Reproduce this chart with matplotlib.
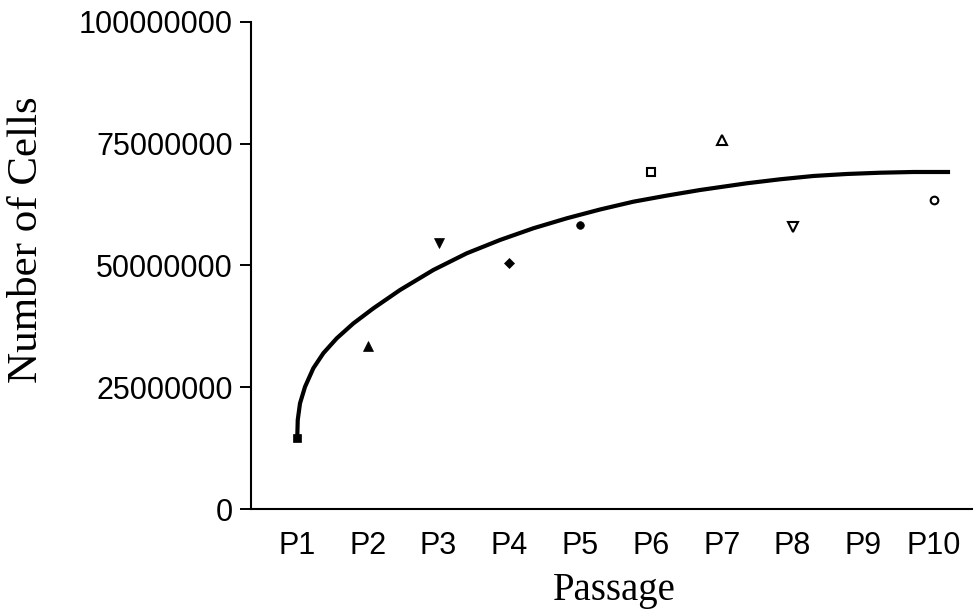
import numpy as np
import matplotlib
matplotlib.use("Agg")
import matplotlib.pyplot as plt

# Cell counts per passage
passages = ["P1", "P2", "P3", "P4", "P5", "P6", "P7", "P8", "P9", "P10"]
cells = [14.6e6, 33.5e6, 54.7e6, 50.6e6, 58.3e6, 69.1e6, 75.8e6, 58.0e6, np.nan, 63.5e6]
markers = ["s", "^", "v", "D", "o", "s", "^", "v", None, "o"]
filled = [True, True, True, True, True, False, False, False, False, False]
msizes = [6, 7.5, 7.5, 5, 5.5, 5.5, 7.5, 7.5, 0, 5.5]

# fitted curve (x in passage units, y in cells)
fit_x = [1.0, 1.004, 1.01, 1.042, 1.113, 1.23, 1.372, 1.561, 1.795, 2.078, 2.455,
         2.926, 3.397, 3.868, 4.338, 4.810, 5.281, 5.751, 6.223, 6.694, 7.354,
         7.824, 8.295, 8.766, 9.237, 9.707, 10.226]
fit_y = [14.6e6, 15.2e6, 18.3e6, 21.7e6, 25.1e6, 28.9e6, 32.0e6, 35.05e6, 38.1e6,
         41.2e6, 44.97e6, 49.08e6, 52.5e6, 55.24e6, 57.64e6, 59.69e6, 61.5e6,
         63.1e6, 64.35e6, 65.5e6, 66.88e6, 67.7e6, 68.38e6, 68.79e6, 69.05e6,
         69.2e6, 69.2e6]

y_ticks = [0, 25000000, 50000000, 75000000, 100000000]


def main():
    fig = plt.figure(figsize=(9.73, 6.16), dpi=100)
    ax = fig.add_axes([0.258, 0.1737, 0.742, 0.7906])

    pos = np.arange(1, len(passages) + 1)

    # --- points, one marker style per passage
    for i, (p, c) in enumerate(zip(pos, cells)):
        if markers[i] is None or np.isnan(c):
            continue
        ax.plot(p, c, marker=markers[i], ms=msizes[i], ls="none",
                mfc="black" if filled[i] else "white", mec="black",
                mew=1.5 if not filled[i] else 0.5, zorder=3)

    # --- fitted curve
    ax.plot(fit_x, fit_y, color="black", lw=3, solid_capstyle="butt",
            solid_joinstyle="round", zorder=2)

    ax.set_xlim(0.35, 10.55)
    ax.set_ylim(0, 100000000)
    ax.set_xticks(pos)
    ax.set_xticklabels(passages, fontfamily="Liberation Sans", fontsize=22)
    ax.set_yticks(y_ticks)
    ax.set_yticklabels([str(v) for v in y_ticks], fontfamily="Liberation Sans", fontsize=22)

    ax.tick_params(axis="x", length=0, pad=16)
    ax.tick_params(axis="y", length=8, width=1.4, pad=5)

    for s in ["top", "right"]:
        ax.spines[s].set_visible(False)
    for s in ["left", "bottom"]:
        ax.spines[s].set_linewidth(1.5)

    ax.set_ylabel("Number of Cells", fontfamily="Liberation Serif", fontsize=31, va="center")
    ax.yaxis.set_label_coords(-0.31, 0.552)
    ax.set_xlabel("Passage", fontfamily="Liberation Serif", fontsize=28, va="center")
    ax.xaxis.set_label_coords(0.503, -0.168)

    fig.savefig("out.png", dpi=100)


if __name__ == "__main__":
    main()
